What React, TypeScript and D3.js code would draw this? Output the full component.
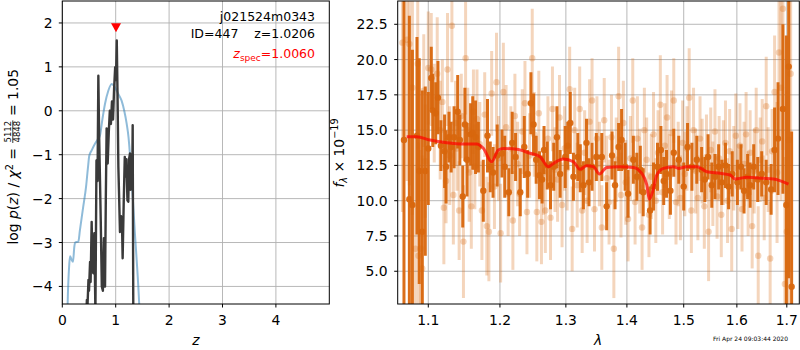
import React from "react";
import * as d3 from "d3";

// p(z) curves
const pzZ = [0.44, 0.46, 0.47, 0.49, 0.5, 0.52, 0.53, 0.55, 0.56, 0.58, 0.6, 0.62, 0.64, 0.66, 0.675, 0.69, 0.7, 0.72, 0.74, 0.76, 0.78, 0.8, 0.815, 0.83, 0.85, 0.87, 0.89, 0.91, 0.93, 0.95, 0.97, 0.99, 1.005, 1.02, 1.035, 1.05, 1.065, 1.08, 1.1, 1.12, 1.13, 1.15, 1.17, 1.19, 1.2, 1.22, 1.236, 1.25, 1.268, 1.28, 1.3, 1.31, 1.318, 1.33];
const pzLogp = [-5, -4.31, -4.5, -3.85, -4.1, -3.44, -3.9, -2.53, -3.3, -3.7, -2.79, -4.6, -1.13, -1.6, 0.8, -0.6, -1.2, -2.5, -4.0, -4.1, -2.9, -4.0, -2.0, -0.4, -1.2, -0.5, 0.0, -0.3, 0.21, -0.2, 0.5, 0.99, 0.7, 1.6, 0.3, -1.28, -2.0, -2.76, -2.4, -2.7, -3.36, -2.1, -1.05, -1.5, -1.1, -2.04, -2.07, -1.1, -0.97, -1.8, -1.0, -1.6, -0.33, -4.8];
const priorZ = [0.09, 0.1, 0.13, 0.145, 0.17, 0.2, 0.225, 0.24, 0.3, 0.33, 0.39, 0.444, 0.48, 0.506, 0.55, 0.612, 0.66, 0.706, 0.75, 0.8, 0.86, 0.925, 0.96, 1.0, 1.05, 1.11, 1.16, 1.206, 1.24, 1.27, 1.3, 1.33, 1.36, 1.393, 1.44, 1.46];
const priorLogp = [-5, -4.4, -3.5, -3.31, -3.38, -3.44, -3.1, -3.0, -2.98, -2.72, -2.2, -1.74, -1.3, -1.02, -0.9, -0.75, -0.66, -0.56, -0.2, 0.16, 0.45, 0.61, 0.58, 0.5, 0.38, 0.23, 0.0, -0.3, -0.6, -1.05, -1.6, -2.19, -2.8, -3.4, -4.4, -5];
const zSpec = 1.006;
const zMarkLogp = 1.9;
const zTicks = [0, 1, 2, 3, 4];
const logpTicks = [-4, -3, -2, -1, 0, 1, 2];

// spectrum
const darkLam = [1.068, 1.075, 1.079, 1.085, 1.088, 1.092, 1.096, 1.1, 1.104, 1.106, 1.11, 1.113, 1.117, 1.122, 1.124, 1.128, 1.131, 1.135, 1.14, 1.143, 1.147, 1.15, 1.153, 1.158, 1.161, 1.165, 1.169, 1.176, 1.182, 1.186, 1.19, 1.196,
  1.203, 1.207, 1.213, 1.218, 1.223, 1.23, 1.236, 1.241, 1.246, 1.25, 1.254, 1.259, 1.263, 1.266, 1.271, 1.276, 1.281, 1.286, 1.291, 1.299, 1.303, 1.307, 1.312, 1.319, 1.323, 1.328, 1.333, 1.337, 1.342, 1.349,
  1.358, 1.366, 1.375, 1.38, 1.386, 1.391, 1.397, 1.402, 1.411, 1.417, 1.423, 1.428, 1.44, 1.446, 1.453, 1.459, 1.464, 1.469, 1.476, 1.482, 1.491, 1.5, 1.507, 1.515, 1.524,
  1.533, 1.539, 1.545, 1.552, 1.558, 1.565, 1.571, 1.578, 1.584, 1.591, 1.601, 1.608, 1.614, 1.621, 1.626, 1.633, 1.641, 1.649, 1.658, 1.668, 1.675, 1.682, 1.692, 1.699, 1.704, 1.71];
const darkFlux = [14.3, 10.1, 9.7, 14.6, 12.1, 7.8, 12.1, 13.7, 18.7, 16.4, 16.2, 17.3, 13.9, 13.5, 12.4, 14.5, 13.8, 14.5, 16.3, 14.3, 10.3, 15.4, 12.9, 14.7, 14.8, 14.5, 13.8, 10.7, 14.6, 12.4, 12.0, 13.2,
  13.35, 12.4, 10.6, 14.1, 13.1, 10.6, 13.8, 11.9, 16.9, 15.4, 12.9, 11.8, 11.5, 13.6, 12.5, 11.1, 12.4, 14.5, 11.9, 13.1, 13.9, 15.5, 11.7, 13.1, 12.3, 11.1, 14.1, 11.3, 12.4, 13.1,
  13.1, 9.6, 13.2, 11.1, 13.8, 14.3, 12.4, 10.5, 12.9, 11.7, 12.2, 10.6, 9.3, 11.0, 12.4, 13.6, 11.4, 11.9, 10.7, 13.4, 12.9, 11.0, 13.8, 12.4, 12.9,
  12.2, 11.5, 13.1, 11.1, 11.7, 12.4, 11.3, 12.5, 11.0, 11.9, 11.3, 12.4, 10.7, 11.7, 11.1, 12.4, 11.5, 11.9, 11.3, 10.8, 13.6, 14.4, 16.5, 9.7, 19.5, 3.9];
const darkErr = [12, 13, 11, 7, 8, 10, 6, 4, 2.2, 2.6, 2.2, 2.6, 1.8, 2.6, 2.6, 1.8, 1.8, 2.2, 2.6, 1.8, 2.2, 2.6, 2.6, 2.2, 2.6, 2.6, 1.8, 2.2, 2.6, 1.8, 1.8, 2.2,
  1.7, 2.2, 1.7, 2.2, 1.7, 1.7, 2.2, 1.7, 2.2, 2.2, 1.7, 1.7, 1.7, 1.7, 1.7, 1.7, 1.7, 2.2, 1.7, 2.2, 1.7, 2.2, 1.7, 1.7, 1.7, 1.7, 1.7, 1.7, 1.7, 1.7,
  1.7, 1.7, 1.7, 1.7, 1.7, 2.2, 1.7, 1.7, 1.7, 1.7, 1.7, 1.7, 1.7, 1.7, 1.7, 1.7, 1.7, 1.7, 1.7, 1.7, 1.7, 1.7, 1.7, 1.7, 1.7,
  1.6, 1.6, 1.6, 1.6, 1.6, 1.6, 1.6, 1.6, 1.6, 1.6, 1.6, 1.6, 1.6, 1.6, 1.6, 1.6, 1.6, 1.6, 1.6, 1.8, 3, 4, 6, 12, 15, 11];

const lightLam = [1.066, 1.072, 1.075, 1.079, 1.083, 1.086, 1.087, 1.09, 1.092, 1.094, 1.096, 1.1, 1.104, 1.108, 1.112, 1.116, 1.119, 1.121, 1.124, 1.126, 1.129, 1.132, 1.134, 1.137, 1.139, 1.142, 1.145, 1.148, 1.151, 1.154, 1.156, 1.159, 1.162, 1.164, 1.167, 1.171, 1.174, 1.178, 1.181, 1.184, 1.188, 1.192, 1.195, 1.198,
  1.201, 1.205, 1.209, 1.212, 1.216, 1.219, 1.222, 1.226, 1.229, 1.233, 1.237, 1.24, 1.244, 1.248, 1.251, 1.255, 1.258, 1.262, 1.265, 1.268, 1.272, 1.276, 1.279, 1.283, 1.287, 1.29, 1.294, 1.298, 1.302, 1.306, 1.31, 1.314, 1.318, 1.322, 1.326, 1.33, 1.334, 1.338, 1.342, 1.346, 1.35, 1.354, 1.358, 1.362, 1.366, 1.37, 1.374, 1.378, 1.382, 1.386, 1.39, 1.394, 1.398,
  1.402, 1.406, 1.41, 1.414, 1.418, 1.422, 1.426, 1.43, 1.434, 1.438, 1.442, 1.446, 1.45, 1.454, 1.458, 1.462, 1.466, 1.47, 1.474, 1.478, 1.482, 1.486, 1.49, 1.494, 1.498, 1.502, 1.506, 1.51, 1.514, 1.518, 1.522, 1.526, 1.53, 1.534, 1.538, 1.542, 1.546, 1.55, 1.554, 1.558, 1.562, 1.566, 1.57, 1.574, 1.578, 1.582, 1.586, 1.59, 1.594, 1.598,
  1.602, 1.606, 1.61, 1.614, 1.618, 1.622, 1.626, 1.63, 1.634, 1.638, 1.642, 1.646, 1.65, 1.654, 1.658, 1.662, 1.666, 1.67, 1.675, 1.68, 1.684, 1.688, 1.692, 1.696, 1.7, 1.704, 1.708];
const lightFlux = [21.2, 21.4, 21.1, 18.0, 6.6, 19.7, 6.1, 6.6, 5.2, 17.8, 12.8, 19.4, 19.3, 16.2, 19.0, 15.0, 17.0, 9.5, 11.4, 19.3, 13.2, 22.4, 10.4, 15.5, 13.7, 9.3, 16.0, 7.1, 20.1, 15.0, 12.0, 9.6, 16.3, 12.4, 15.8, 14.0, 9.3, 16.1, 8.2, 7.8, 17.6, 11.0, 18.4, 13.0,
  7.7, 17.7, 15.2, 10.5, 13.7, 8.6, 16.0, 12.6, 10.5, 14.9, 16.9, 9.2, 13.2, 20.1, 14.7, 9.2, 16.2, 8.5, 12.0, 9.3, 14.4, 8.8, 16.5, 12.2, 11.5, 15.9, 9.7, 13.7, 12.3, 17.9, 8.0, 15.0, 11.1, 16.5, 9.3, 13.4, 10.0, 15.6, 17.1, 9.4, 14.4, 12.6, 8.1, 15.7, 11.6, 9.9, 14.5, 6.6, 12.9, 17.4, 10.4, 15.5, 11.3,
  8.7, 13.0, 17.1, 9.9, 14.4, 12.1, 8.1, 15.0, 12.9, 9.0, 11.7, 14.7, 10.0, 13.4, 16.8, 10.6, 13.9, 15.9, 11.7, 14.8, 17.1, 9.9, 12.6, 10.2, 14.1, 11.9, 13.7, 17.3, 9.3, 15.0, 12.1, 10.2, 14.4, 12.8, 9.6, 13.1, 7.8, 13.6, 11.2, 14.9, 10.3, 13.0, 9.0, 12.7, 14.1, 10.0, 13.5, 8.0, 12.3, 14.6,
  11.0, 13.9, 9.4, 12.6, 14.7, 10.5, 13.4, 8.2, 12.1, 15.0, 6.1, 12.9, 14.2, 10.2, 16.7, 12.2, 5.9, 13.5, 17.7, 12.0, 20.5, 18.0, 23.6, 4.1, 7.8, 14.3, 19.0];
const lightErr = [12, 10, 10, 9, 8, 6, 8, 7, 8, 4, 4, 4, 4, 3.5, 4, 3.5, 3, 4, 3, 4, 3.5, 4, 3.5, 3, 3, 3.5, 3, 4, 4, 3, 3.5, 3, 3, 3, 3.5, 3, 3.5, 3, 3.5, 3.5, 3, 3, 3.5, 3,
  3.5, 3.5, 3, 3, 3, 3.5, 3, 3, 3, 3, 3, 3, 3, 3.5, 3, 3.5, 3, 3, 3, 3, 3, 3, 3, 3, 3, 3, 3, 3, 3, 3, 3, 3, 3, 3, 3, 3, 3, 3, 3, 3, 3, 3, 3, 3, 3, 3, 3, 3.5, 3, 3.5, 3, 3, 3,
  3, 3, 3, 3, 3, 3, 3, 3, 3, 3, 3, 3, 3, 3, 3.5, 3, 3, 3, 3, 3, 3, 3, 3, 3, 3, 3, 3, 3.5, 3, 3, 3, 3, 3, 3, 3, 3, 3.5, 3, 3, 3, 3, 3, 3, 3, 3, 3, 3, 3, 3, 3,
  3, 3, 3, 3, 3, 3, 3, 3, 3, 3, 3.5, 3, 3, 3, 3.5, 3, 4, 3, 4, 5, 6, 8, 10, 9, 10, 12, 14];

const modelLam = [1.0715, 1.0846, 1.1023, 1.1249, 1.1478, 1.1666, 1.176, 1.188, 1.1976, 1.205, 1.2247, 1.2446, 1.2598, 1.2726, 1.2804, 1.296, 1.312, 1.3226, 1.3334, 1.3442, 1.354, 1.3663, 1.3885, 1.411, 1.4256, 1.4343, 1.4388, 1.4436, 1.4518, 1.4635, 1.4814, 1.4905, 1.5058, 1.524, 1.5428, 1.568, 1.587, 1.5968, 1.6197, 1.6527, 1.6729, 1.7035];
const modelFlux = [14.53, 14.53, 14.3, 14.11, 14.02, 14.02, 13.71, 12.76, 13.59, 13.7, 13.64, 13.36, 13.12, 12.41, 12.64, 12.95, 12.76, 12.22, 12.48, 12.41, 11.89, 12.36, 12.41, 12.36, 11.94, 11.11, 10.1, 10.52, 11.82, 12.29, 12.41, 12.29, 12.41, 12.41, 12.05, 11.94, 11.82, 11.54, 11.66, 11.59, 11.54, 11.18];
const lamTicks = [1.1, 1.2, 1.3, 1.4, 1.5, 1.6, 1.7];
const fluxTicks = [5, 7.5, 10, 12.5, 15, 17.5, 20, 22.5];

const FONT = "DejaVu Sans, sans-serif";
const ORANGE = "#d9670e";
const GRID = "#b0b0b0";

const App = () => {
  // left panel
  const L = { x0: 62.3, x1: 329.3, y0: 1, y1: 304 };
  const xz = d3.scaleLinear().domain([0, 5]).range([L.x0, L.x1]);
  const yp = d3.scaleLinear().domain([-4.4, 2.5]).range([L.y1, L.y0]);
  const pzLine = d3.line<number>().x((d, i) => xz(pzZ[i])).y((d) => yp(d));
  const priorLine = d3
    .line<number>()
    .x((d, i) => xz(priorZ[i]))
    .y((d) => yp(d))
    .curve(d3.curveMonotoneX);

  // right panel
  const R = { x0: 397.7, x1: 799.3, y0: 1, y1: 304 };
  const xl = d3.scaleLog().domain([1.0599, 1.726]).range([R.x0, R.x1]);
  const yf = d3.scaleLinear().domain([2.68, 24.15]).range([R.y1, R.y0]);
  const modelLine = d3
    .line<number>()
    .x((d, i) => xl(modelLam[i]))
    .y((d) => yf(d))
    .curve(d3.curveMonotoneX);

  const tri = `M${xz(zSpec) - 5},${yp(zMarkLogp) - 4} L${xz(zSpec) + 5},${yp(zMarkLogp) - 4} L${xz(zSpec)},${yp(zMarkLogp) + 5} Z`;

  const errbars = (lam, flux, err, op, key) =>
    lam.map((l, i) => (
      <g key={key + i}>
        <line
          x1={xl(l)}
          x2={xl(l)}
          y1={yf(flux[i] - err[i])}
          y2={yf(flux[i] + err[i])}
          stroke={ORANGE}
          strokeOpacity={op}
          strokeWidth={3}
        />
        <circle cx={xl(l)} cy={yf(flux[i])} r={3.2} fill={ORANGE} fillOpacity={op} />
      </g>
    ));

  return (
    <svg
      width={800}
      height={350}
      style={{ position: "absolute", left: 0, top: 0, background: "white" }}
      fontFamily={FONT}
    >
      <defs>
        <clipPath id="clipL">
          <rect x={L.x0} y={L.y0} width={L.x1 - L.x0} height={L.y1 - L.y0} />
        </clipPath>
        <clipPath id="clipR">
          <rect x={R.x0} y={R.y0} width={R.x1 - R.x0} height={R.y1 - R.y0} />
        </clipPath>
      </defs>

      {/* ---- left: p(z) ---- */}
      {zTicks.map((t) => (
        <line key={"gz" + t} x1={xz(t)} x2={xz(t)} y1={L.y0} y2={L.y1} stroke={GRID} strokeWidth={0.9} />
      ))}
      {logpTicks.map((t) => (
        <line key={"gp" + t} x1={L.x0} x2={L.x1} y1={yp(t)} y2={yp(t)} stroke={GRID} strokeWidth={0.9} />
      ))}
      <g clipPath="url(#clipL)">
        <path d={priorLine(priorLogp)} fill="none" stroke="#1f77b4" strokeOpacity={0.5} strokeWidth={2} />
        <path d={pzLine(pzLogp)} fill="none" stroke="#3a3a3a" strokeWidth={2.4} strokeLinejoin="round" />
        <path d={tri} fill="red" />
      </g>
      <rect x={L.x0} y={L.y0} width={L.x1 - L.x0} height={L.y1 - L.y0} fill="none" stroke="black" strokeWidth={1} />
      {zTicks.map((t) => (
        <g key={"tz" + t}>
          <line x1={xz(t)} x2={xz(t)} y1={L.y1} y2={L.y1 + 3.5} stroke="black" />
          <text x={xz(t)} y={325} textAnchor="middle" fontSize={13.9}>
            {t}
          </text>
        </g>
      ))}
      {logpTicks.map((t) => (
        <g key={"tp" + t}>
          <line x1={L.x0 - 3.5} x2={L.x0} y1={yp(t)} y2={yp(t)} stroke="black" />
          <text x={52.5} y={yp(t) + 5} textAnchor="end" fontSize={13.9}>
            {t < 0 ? "\u2212" + Math.abs(t) : t}
          </text>
        </g>
      ))}
      <text x={195.8} y={345} textAnchor="middle" fontSize={13.9} fontStyle="italic">
        z
      </text>
      <g transform="translate(18,154) rotate(-90)" fontSize={13.9}>
        <text x={6} y={0} textAnchor="end">
          log <tspan fontStyle="italic">p</tspan>(<tspan fontStyle="italic">z</tspan>) / <tspan fontStyle="italic">χ</tspan>
          <tspan fontSize={9.7} dy={-5}>2</tspan>
          <tspan dy={5}> =</tspan>
        </text>
        <text x={22.3} y={-7} textAnchor="middle" fontSize={8.5}>5112</text>
        <line x1={11} x2={33.6} y1={-5.2} y2={-5.2} stroke="black" strokeWidth={0.8} />
        <text x={22.3} y={1.5} textAnchor="middle" fontSize={8.5}>4848</text>
        <text x={38} y={0} textAnchor="start">= 1.05</text>
      </g>

      <text x={315} y={21} textAnchor="end" fontSize={12.5}>
        j021524m0343
      </text>
      <text x={315} y={38} textAnchor="end" fontSize={12.5} style={{ whiteSpace: "pre" }}>
        {"ID=447    z=1.0206"}
      </text>
      <text x={315} y={58} textAnchor="end" fontSize={12.5} fill="red">
        <tspan fontStyle="italic">z</tspan>
        <tspan fontSize={9} dy={3}>spec</tspan>
        <tspan dy={-3}>=1.0060</tspan>
      </text>

      {/* ---- right: spectrum ---- */}
      {lamTicks.map((t) => (
        <line key={"gl" + t} x1={xl(t)} x2={xl(t)} y1={R.y0} y2={R.y1} stroke={GRID} strokeWidth={0.9} />
      ))}
      {fluxTicks.map((t) => (
        <line key={"gf" + t} x1={R.x0} x2={R.x1} y1={yf(t)} y2={yf(t)} stroke={GRID} strokeWidth={0.9} />
      ))}
      <g clipPath="url(#clipR)">
        {errbars(darkLam, darkFlux, darkErr, 0.95, "d")}
        {errbars(lightLam, lightFlux, lightErr, 0.28, "l")}
        <path d={modelLine(modelFlux)} fill="none" stroke="red" strokeOpacity={0.7} strokeWidth={3} />
      </g>
      <rect x={R.x0} y={R.y0} width={R.x1 - R.x0} height={R.y1 - R.y0} fill="none" stroke="black" strokeWidth={1} />
      {lamTicks.map((t) => (
        <g key={"tl" + t}>
          <line x1={xl(t)} x2={xl(t)} y1={R.y1} y2={R.y1 + 3.5} stroke="black" />
          <text x={xl(t)} y={325} textAnchor="middle" fontSize={13.9}>
            {t.toFixed(1)}
          </text>
        </g>
      ))}
      {fluxTicks.map((t) => (
        <g key={"tf" + t}>
          <line x1={R.x0 - 3.5} x2={R.x0} y1={yf(t)} y2={yf(t)} stroke="black" />
          <text x={387.5} y={yf(t) + 5} textAnchor="end" fontSize={13.9}>
            {t.toFixed(1)}
          </text>
        </g>
      ))}
      <text x={598} y={345} textAnchor="middle" fontSize={13.9} fontStyle="italic">
        λ
      </text>
      <g transform="translate(344,153) rotate(-90)" fontSize={13.9}>
        <text x={0} y={0} textAnchor="middle">
          <tspan fontStyle="italic">f</tspan>
          <tspan fontSize={9.7} fontStyle="italic" dy={3}>λ</tspan>
          <tspan dy={-3}> × 10</tspan>
          <tspan fontSize={9.7} dy={-6}>−19</tspan>
        </text>
      </g>
      <text x={788} y={341} textAnchor="end" fontSize={6}>
        Fri Apr 24 09:03:44 2020
      </text>
    </svg>
  );
};

export default App;
